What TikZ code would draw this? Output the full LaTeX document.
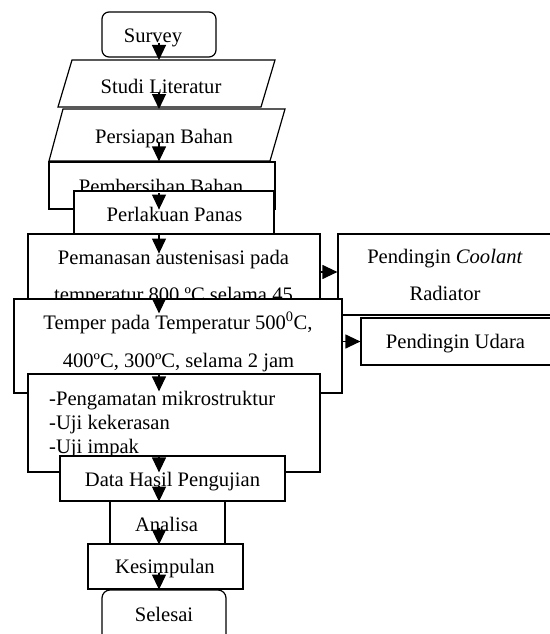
\documentclass[tikz,border=0pt]{standalone}
\usepackage{fontspec}
\setmainfont{Liberation Serif}
\usetikzlibrary{arrows.meta,calc}
% box from its corners: name, x1, x2, y1, y2
\newcommand{\flowbox}[6][]{
    \node[box,#1,minimum width={(#4)-(#3)},minimum height={(#6)-(#5)}]
        (#2) at ({((#3)+(#4))/2},{((#5)+(#6))/2}) {};
}

\begin{document}
\begin{tikzpicture}[
        x=1pt,y=-1pt,
        box/.style={
            draw,
            fill=white,
            line width=1.2pt,
            inner sep=0pt,
        },
        lbl/.style={
            inner sep=0pt,
            anchor=base,
            font=\fontsize{20.6pt}{24pt}\selectfont,
        },
        flow/.style={
            line width=1.2pt,
            -{Triangle[width=14pt,length=15pt]},
        },
    ]
    \useasboundingbox (0,0) rectangle (549,634);
    \coordinate (ax) at (159,0);

    \flowbox[rounded corners=7pt]{survey}{102}{216}{12}{57}
    \node[lbl] (survey-t) at (153,43) {Survey};

    \draw[box] (72,60) -- (275,60) -- (261,107) -- (58,107) -- cycle;
    \coordinate (studi-n) at (159,60);
    \node[lbl] (studi-t) at (161,93) {Studi Literatur};

    \draw[box] (63,109) -- (285,109) -- (270,161) -- (49,161) -- cycle;
    \coordinate (persiapan-n) at (159,109);
    \node[lbl] (persiapan-t) at (164,143) {Persiapan Bahan};

    \flowbox{pembersihan}{49}{275}{162}{209}
    \node[lbl] (pembersihan-t) at (161,193) {Pembersihan Bahan};

    \flowbox{perlakuan}{74}{274}{191}{234}
    \node[lbl] (perlakuan-t) at (174.5,221) {Perlakuan Panas};

    \flowbox{pemanasan}{28}{320}{234}{310}
    \node[lbl] (pemanasan-t1) at (173.5,264) {Pemanasan austenisasi pada};
    \node[lbl] (pemanasan-t2) at (173.5,301) {temperatur 800 ºC selama 45};

    % cooling
    \flowbox{coolant}{338}{560}{234}{315}
    \node[lbl] (coolant-t1) at (445,263) {Pendingin \textit{Coolant}};
    \node[lbl] (coolant-t2) at (445,300) {Radiator};

    \flowbox{temper}{14}{342}{299}{393}
    \node[lbl] (temper-t1) at (178,329) {Temper pada Temperatur 500\textsuperscript{0}C,};
    \node[lbl] (temper-t2) at (178.5,367) {400ºC, 300ºC, selama 2 jam};

    \flowbox{udara}{361}{560}{318}{365}
    \node[lbl] (udara-t) at (455.5,348) {Pendingin Udara};

    % tests
    \flowbox{uji}{28}{320}{374}{472}
    \node[lbl,anchor=base west] (uji-t1) at (49,405) {-Pengamatan mikrostruktur};
    \node[lbl,anchor=base west] (uji-t2) at (49,429) {-Uji kekerasan};
    \node[lbl,anchor=base west] (uji-t3) at (49,453) {-Uji impak};

    \flowbox{data}{60}{285}{456}{501}
    \node[lbl] (data-t) at (172.5,486) {Data Hasil Pengujian};

    \flowbox{analisa}{110}{225}{501}{544}
    \node[lbl] (analisa-t) at (166.5,531) {Analisa};

    \flowbox{kesimpulan}{88}{243}{544}{589}
    \node[lbl] (kesimpulan-t) at (165,573) {Kesimpulan};

    \flowbox[rounded corners=8pt]{selesai}{102}{226}{590}{650}
    \node[lbl] (selesai-t) at (164,621) {Selesai};

    % arrows
    \foreach \a/\b in {survey-t.base/studi-n,studi-t.base/persiapan-n,
            persiapan-t.base/pembersihan.north,pembersihan-t.base/pembersihan.south,
            data-t.base/data.south,kesimpulan-t.base/kesimpulan.south}{
        \draw[flow] (\a -| ax) -- (\b -| ax);
    }
    \draw[flow] (perlakuan.south -| ax) -- ++(0,19);
    \draw[flow] (temper.north -| ax) -- ++(0,15);
    \draw[flow] (uji.north -| ax) -- ++(0,18);
    \draw[flow] (data.north -| ax) -- ++(0,17);
    \draw[flow] ($(analisa.south -| ax)+(0,-17)$) -- (analisa.south -| ax);
    \draw[flow] (pemanasan.east) -- (pemanasan.east -| coolant.west);
    \draw[flow] (temper.east |- udara.west) -- (udara.west);
\end{tikzpicture}
\end{document}
